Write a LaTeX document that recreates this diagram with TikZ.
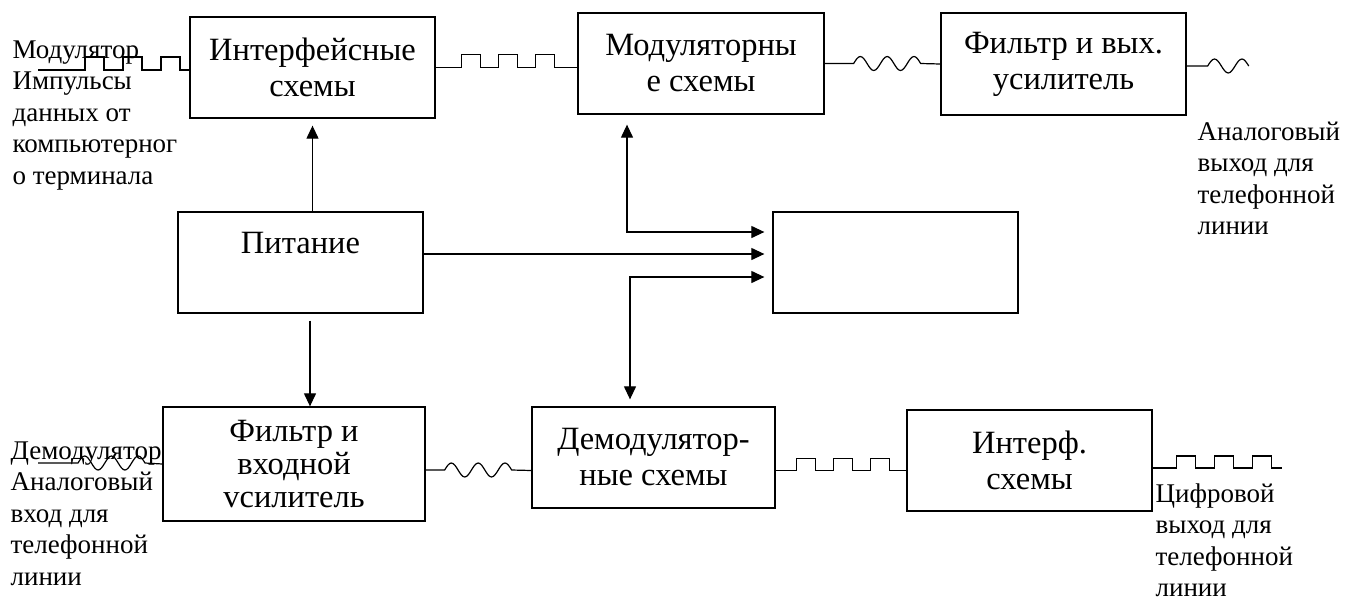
\documentclass[tikz,border=0pt]{standalone}
\usepackage{fontspec}
\setmainfont{Liberation Serif}
\usetikzlibrary{arrows.meta}

\newcommand\boxfont{\fontsize{32.5}{36}\selectfont}
\newcommand\labfont{\fontsize{27}{31.5}\selectfont}

\tikzset{
  blok/.style={draw, line width=1.3pt, inner sep=0pt, minimum width=245pt,
    minimum height=101pt, align=center, font=\boxfont},
  lab/.style={anchor=north west, inner sep=0pt, align=left, font=\labfont},
  arr/.style={-{Triangle[length=13pt,width=12pt]}},
  arrs/.style={{Triangle[length=13pt,width=12pt]}-{Triangle[length=13pt,width=12pt]}},
}

\begin{document}
\begin{tikzpicture}[x=1pt, y=-1pt, line width=1.2pt]
             \useasboundingbox (0,0) rectangle (1354,598);

             \node[blok] (intf) at (312.5,67.5) {Интерфейсные\\схемы};
             \node[blok, minimum width=246pt] (modul) at (701,63.5) {Модуляторны\\е схемы};
             \node[blok, minimum height=102pt] (filtout) at (1063.5,64) {Фильтр и вых.\\усилитель};
             \node[blok] (pit) at (300.5,262.5) {};
             \node[font=\boxfont] (pittxt) at (300.5,243) {Питание};
             \node[blok] (ctrl) at (895.5,262.5) {};
             \node[blok, minimum width=262pt, minimum height=114pt,
               font=\fontsize{32.5}{33}\selectfont] (filtin) at (294,464) {Фильтр и\\входной\\vсилитель};
             \node[blok, minimum width=243pt] (demod) at (653.5,457.5) {Демодулятор-\\ные схемы};
             \node[blok] (intf2) at (1029.5,460.5) {Интерф.\\схемы};

             \node[lab] (modlab) at (12,40) {Модулятор\\Импульсы\\данных от\\компьютерног\\о терминала};
             \node[lab] (anout) at (1197,121) {Аналоговый\\выход для\\телефонной\\линии};
             \node[lab] (demlab) at (10,441) {Демодулятор\\Аналоговый\\вход для\\телефонной\\линии};
             \node[lab] (digout) at (1155,483) {Цифровой\\выход для\\телефонной\\линии};

             \coordinate (modin) at (38,70);
             \coordinate (demin) at (38,463);
             \coordinate (pdown) at ([xshift=9.5pt]pit.south);
             \coordinate (mdrop) at ([xshift=-74pt]modul.south);
             \coordinate (dup) at ([xshift=-23.5pt]demod.north);

             % power and control lines
             \draw[arr] (pit.north -| intf.south) -- ([yshift=-7pt]intf.south);
             \draw[arr] ([yshift=-7pt]pdown) -- (pdown |- filtin.north);
             \draw[arrs] ([yshift=-10pt]mdrop) |- ([xshift=-8pt,yshift=30.5pt]ctrl.west);
             \draw[arr] ([yshift=8.5pt]pit.east) -- ([xshift=-8pt,yshift=8.5pt]ctrl.west);
             \draw[arrs] ([yshift=7pt]dup) |- ([xshift=-8pt,yshift=-14.5pt]ctrl.west);

             % digital pulses
             \draw (modin) -- ++(47,0) \foreach \i in {1,2}{ -- ++(0,-13) -- ++(19,0) -- ++(0,13) -- ++(19,0)}
                   -- ++(0,-13) -- ++(19,0) -- ++(0,13) -- ([yshift=-2.5pt]intf.west);
             \draw (intf.east) -- ++(26,0) \foreach \i in {1,2,3}{ -- ++(0,-13) -- ++(19,0) -- ++(0,13) -- ++(18,0)}
                   -- (modul.west |- intf.east);
             \draw ([yshift=-13pt]demod.east) -- ++(21,0) \foreach \i in {1,2,3}{ -- ++(0,-12) -- ++(19,0) -- ++(0,12) -- ++(18,0)}
                   -- ([yshift=-10pt]intf2.west);
             \draw ([yshift=-7.5pt]intf2.east) -- ++(24,0) \foreach \i in {1,2}{ -- ++(0,-12) -- ++(19,0) -- ++(0,12) -- ++(19,0)}
                   -- ++(0,-12) -- ++(19,0) -- ++(0,12) -- ++(10,0);

             % analog signals
             \draw (modul.east) -- ++(29,0) \foreach \s in {-1,1,-1,1,-1}{ sin ++(6.7,7*\s) cos ++(6.7,-7*\s)}
                   -- (filtout.west);
             \draw ([yshift=-2pt]filtout.east) -- ++(21,0) \foreach \s in {-1,1,-1}{ sin ++(6.85,7*\s) cos ++(6.85,-7*\s)};
             \draw (demin) -- ++(40,0) \foreach \s in {-1,1,-1,1,-1}{ sin ++(6.7,7*\s) cos ++(6.7,-7*\s)}
                   -- (filtin.west);
             \draw ([yshift=-6pt]filtin.east) -- ++(19,0) \foreach \s in {-1,1,-1,1,-1}{ sin ++(6.7,7*\s) cos ++(6.7,-7*\s)}
                   -- ([yshift=-13pt]demod.west);

             \end{tikzpicture}
\end{document}
